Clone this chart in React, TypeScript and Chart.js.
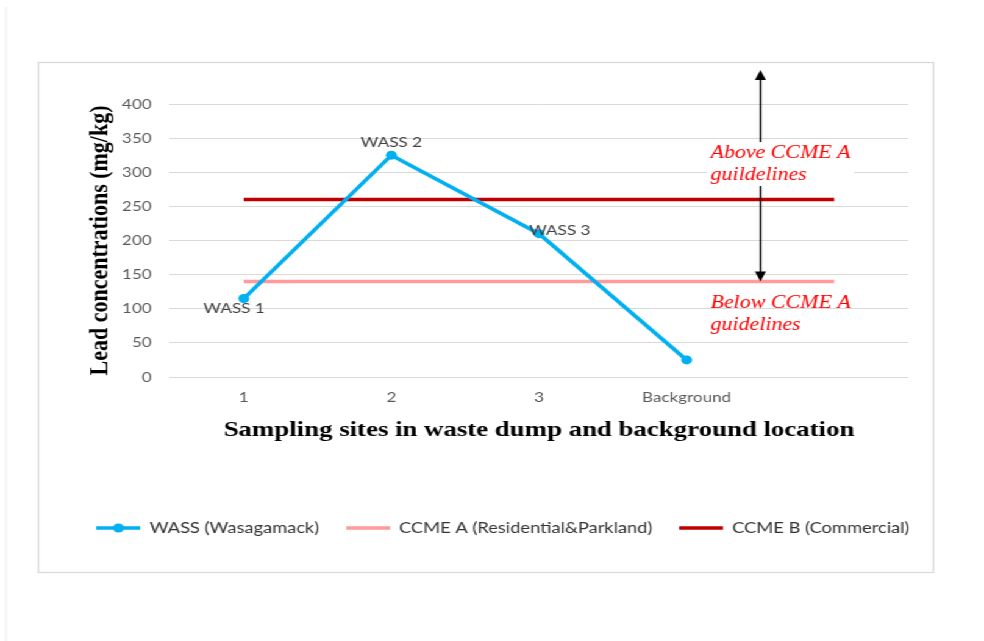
import React, { useEffect, useRef } from 'react';
import Chart from 'chart.js/auto';

// ---------- data ----------
const categories = ['1', '2', '3', 'Background', ''];
const wassValues = [115, 325, 210, 25, null];
const ccmeAValues = [140, 140, 140, 140, 140];
const ccmeBValues = [260, 260, 260, 260, 260];
const pointLabels = ['WASS 1', 'WASS 2', 'WASS 3', '', ''];
const seriesNames = ['WASS (Wasagamack)', 'CCME A (Residential&Parkland)', 'CCME B (Commercial)'];
const yMin = 0;
const yMax = 400;
const yStep = 50;
const yTitle = 'Lead concentrations (mg/kg)';
const xTitle = 'Sampling sites in waste dump and background location';
const arrowTopValue = 450;
const aboveText = ['Above CCME A', 'guildelines'];
const belowText = ['Below CCME A', 'guidelines'];
const aboveTextValue = 312;
const belowTextValue = 92;

// ---------- style ----------
const W = 807;
const H = 641;
const STRETCH = 984 / W;
const BLUE = '#00b0f0';
const PINK = '#ff9b9b';
const DARKRED = '#c00000';
const labelOffsets = [[-8, 10], [0, -13], [17, -3]];
const PAD_L = 40;
const PAD_R = 22;
const AREA_L = 139.4;
const AREA_R = 744.7;

function makeMarker(color: string, lw: number, dot: boolean) {
  const c = document.createElement('canvas');
  c.width = 36;
  c.height = 12;
  const g = c.getContext('2d')!;
  g.strokeStyle = color;
  g.lineWidth = lw;
  g.beginPath();
  g.moveTo(0, 6);
  g.lineTo(36, 6);
  g.stroke();
  if (dot) {
    g.fillStyle = color;
    g.beginPath();
    g.arc(18, 6, 4.5, 0, Math.PI * 2);
    g.fill();
  }
  return c;
}

const framePlugin = {
  id: 'frame',
  beforeDraw(chart: any) {
    const { ctx } = chart;
    ctx.save();
    ctx.fillStyle = '#ffffff';
    ctx.fillRect(0, 0, chart.width, chart.height);
    ctx.strokeStyle = '#ececec';
    ctx.lineWidth = 1;
    ctx.beginPath();
    ctx.moveTo(5, 7);
    ctx.lineTo(5, chart.height);
    ctx.stroke();
    ctx.strokeStyle = '#d9d9d9';
    ctx.lineWidth = 1.3;
    ctx.strokeRect(31.5, 62.5, 734, 510);
    ctx.restore();
  },
};

const annotationPlugin = {
  id: 'annot',
  afterDatasetsDraw(chart: any) {
    const { ctx } = chart;
    const xs = chart.scales.x;
    const ys = chart.scales.y;
    ctx.save();
    // point labels
    const meta = chart.getDatasetMeta(0);
    ctx.font = '14px Lato';
    ctx.fillStyle = '#404040';
    ctx.textAlign = 'center';
    ctx.textBaseline = 'middle';
    meta.data.forEach((pt: any, i: number) => {
      const t = pointLabels[i];
      if (!t || wassValues[i] == null) return;
      const off = labelOffsets[i] || [0, 0];
      ctx.fillText(t, pt.x + off[0], pt.y + off[1]);
    });

    // arrow
    const ax = (xs.getPixelForValue(3) + xs.getPixelForValue(4)) / 2;
    const yTop = ys.getPixelForValue(arrowTopValue);
    const yBot = ys.getPixelForValue(ccmeAValues[0]);
    const head = 10;
    const hw = 4.5;
    ctx.strokeStyle = '#000';
    ctx.fillStyle = '#000';
    ctx.lineWidth = 1.4;
    ctx.beginPath();
    ctx.moveTo(ax, yTop + head - 1);
    ctx.lineTo(ax, yBot - head + 1);
    ctx.stroke();
    ctx.beginPath();
    ctx.moveTo(ax, yTop);
    ctx.lineTo(ax - hw, yTop + head);
    ctx.lineTo(ax + hw, yTop + head);
    ctx.closePath();
    ctx.fill();
    ctx.beginPath();
    ctx.moveTo(ax, yBot);
    ctx.lineTo(ax - hw, yBot - head);
    ctx.lineTo(ax + hw, yBot - head);
    ctx.closePath();
    ctx.fill();

    // annotation texts
    ctx.font = 'italic 18px "Liberation Serif"';
    ctx.textAlign = 'left';
    ctx.textBaseline = 'middle';
    const tx = ax - 41;
    const lh = 22;
    const drawBlock = (lines: string[], value: number, bg: boolean) => {
      const cy = ys.getPixelForValue(value);
      const y0 = cy - lh / 2;
      if (bg) {
        const w = Math.max(...lines.map((l) => ctx.measureText(l).width));
        ctx.fillStyle = '#ffffff';
        ctx.fillRect(tx - 3, y0 - 11, w + 6, lh * lines.length);
      }
      ctx.fillStyle = '#ff0000';
      lines.forEach((l, i) => ctx.fillText(l, tx, y0 + i * lh));
    };
    drawBlock(aboveText, aboveTextValue, true);
    drawBlock(belowText, belowTextValue, false);
    ctx.restore();
  },
};

export default function App() {
  const ref = useRef<HTMLCanvasElement>(null);
  useEffect(() => {
    const canvas = ref.current!;
    const markers = [makeMarker(BLUE, 3.5, true), makeMarker(PINK, 3.5, false), makeMarker(DARKRED, 3.5, false)];
    const defaultGen = (Chart as any).defaults.plugins.legend.labels.generateLabels;
    const chart = new Chart(canvas, {
      type: 'line',
      data: {
        labels: categories,
        datasets: [
          {
            label: seriesNames[0],
            data: wassValues,
            borderColor: BLUE,
            backgroundColor: BLUE,
            borderWidth: 3.5,
            pointRadius: 4.5,
            pointBorderWidth: 0,
            pointBackgroundColor: BLUE,
            tension: 0,
          },
          {
            label: seriesNames[1],
            data: ccmeAValues,
            borderColor: PINK,
            backgroundColor: PINK,
            borderWidth: 3.5,
            pointRadius: 0,
            tension: 0,
          },
          {
            label: seriesNames[2],
            data: ccmeBValues,
            borderColor: DARKRED,
            backgroundColor: DARKRED,
            borderWidth: 3.5,
            pointRadius: 0,
            tension: 0,
          },
        ],
      },
      options: {
        responsive: false,
        animation: false,
        events: [],
        layout: { padding: { left: PAD_L, right: PAD_R, top: 104, bottom: 95.5 } },
        font: { family: 'Lato' },
        scales: {
          x: {
            type: 'category',
            offset: true,
            grid: { display: false, drawTicks: false },
            border: { display: false },
            ticks: { color: '#595959', font: { family: 'Lato', size: 14 }, padding: 12, autoSkip: false, maxRotation: 0 },
            title: {
              display: true,
              text: xTitle,
              color: '#000',
              font: { family: 'Liberation Serif', size: 22, weight: 'bold' },
              padding: { top: 0, bottom: 55.3 },
            },
            afterFit: (s: any) => {
              s.height = 121.5;
            },
          },
          y: {
            min: yMin,
            max: yMax,
            grid: { color: '#d9d9d9', lineWidth: 1, drawTicks: false },
            border: { display: false },
            ticks: { stepSize: yStep, color: '#595959', font: { family: 'Lato', size: 14 }, padding: 15 },
            title: {
              display: true,
              text: yTitle,
              color: '#000',
              font: { family: 'Liberation Serif', size: 22, weight: 'bold' },
              padding: { top: 82 - 13.2 - PAD_L, bottom: 0 },
            },
            afterFit: (s: any) => {
              s.width = AREA_L - PAD_L;
            },
          },
          yRight: {
            position: 'right',
            display: true,
            grid: { display: false, drawTicks: false },
            border: { display: false },
            ticks: { display: false },
            afterFit: (s: any) => {
              s.width = W - AREA_R - PAD_R;
            },
          },
        },
        plugins: {
          tooltip: { enabled: false },
          legend: {
            position: 'bottom',
            labels: {
              usePointStyle: true,
              pointStyleWidth: 36,
              padding: 22,
              color: '#333333',
              font: { family: 'Lato', size: 15 },
              generateLabels: (c: any) => {
                const items = defaultGen(c);
                items.forEach((it: any, i: number) => {
                  it.pointStyle = markers[i];
                  it.fontColor = '#333333';
                });
                return items;
              },
            },
          },
        },
      } as any,
      plugins: [framePlugin, annotationPlugin],
    });
    return () => chart.destroy();
  }, []);
  return (
    <div
      style={{
        position: 'fixed',
        left: 0,
        top: 0,
        width: W,
        height: H,
        transform: `scaleX(${STRETCH})`,
        transformOrigin: '0 0',
        background: '#fff',
      }}
    >
      <canvas ref={ref} width={W} height={H} style={{ display: 'block' }} />
    </div>
  );
}
